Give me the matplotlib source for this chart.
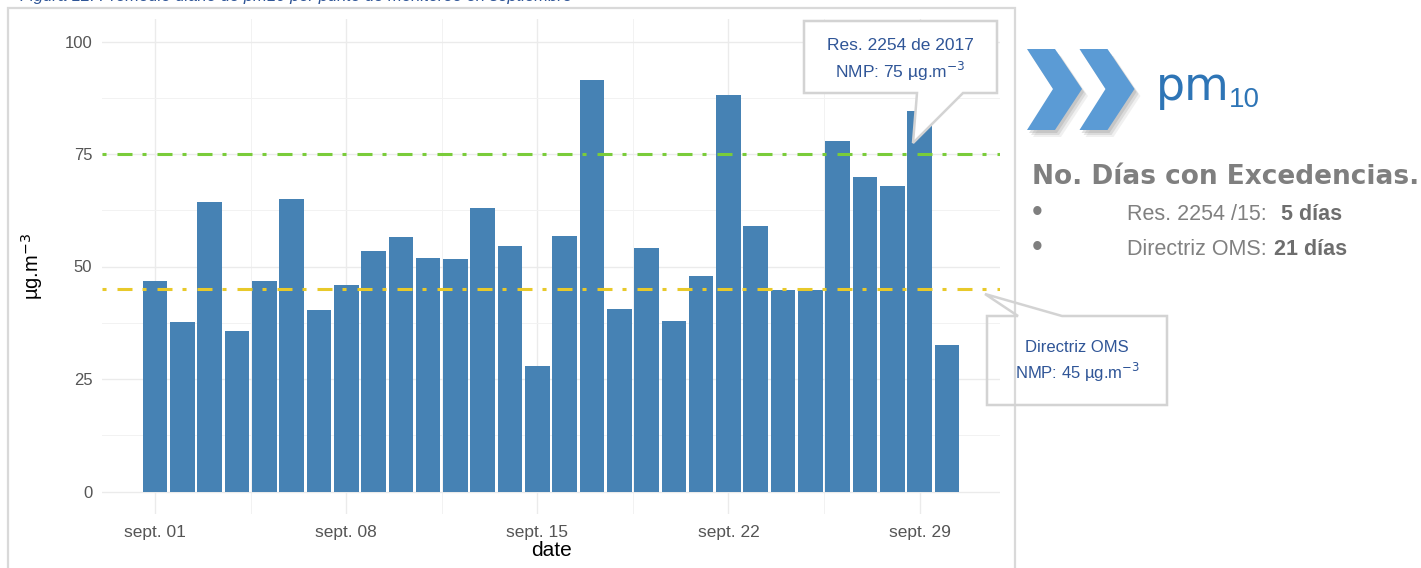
import matplotlib
matplotlib.use('Agg')
import matplotlib.pyplot as plt
from matplotlib.patches import Polygon, Rectangle

# datos: promedio diario pm10 (septiembre)
days = list(range(1, 31))
pm10 = [46.7, 37.6, 64.3, 35.7, 46.7, 65.1, 40.3, 45.9, 53.4, 56.5,
        51.9, 51.7, 63.1, 54.6, 27.9, 56.8, 91.5, 40.5, 54.2, 38.0,
        47.9, 88.2, 59.1, 44.8, 44.8, 78.0, 70.0, 67.8, 84.5, 32.5]
x_ticks = [1, 8, 15, 22, 29]
x_labels = ['sept. 01', 'sept. 08', 'sept. 15', 'sept. 22', 'sept. 29']
y_ticks = [0, 25, 50, 75, 100]
limit_res = 75   # Res. 2254 de 2017
limit_oms = 45   # Directriz OMS

W, H = 1421, 568
plt.rcParams['font.family'] = ['Liberation Sans', 'DejaVu Sans']
plt.rcParams['lines.scale_dashes'] = False

fig = plt.figure(figsize=(W / 100, H / 100), dpi=100)


def px(x, y):
    # pixeles -> coordenadas de figura
    return (x / W, 1 - y / H)


# ---- grafico de barras ----
ax = fig.add_axes([102 / W, 1 - 514 / H, (1000 - 102) / W, (514 - 19) / H])
ax.bar(days, pm10, width=0.9, color='#4682B4', zorder=2)
ax.set_xlim(-0.945, 31.945)
ax.set_ylim(-5, 105)

dash = (0, (2.9, 7.9, 10.8, 7.2))
ax.axhline(limit_res, color='#7ACC3A', lw=2.2, linestyle=dash, zorder=3)
ax.axhline(limit_oms, color='#E8C92A', lw=2.2, linestyle=dash, zorder=3)

ax.set_xticks(x_ticks)
ax.set_xticklabels(x_labels)
ax.set_xticks([4.5, 11.5, 18.5, 25.5], minor=True)
ax.set_yticks(y_ticks)
ax.set_yticks([12.5, 37.5, 62.5, 87.5], minor=True)
ax.grid(which='major', color='#EBEBEB', lw=1.0, zorder=0)
ax.grid(which='minor', color='#F2F2F2', lw=0.7, zorder=0)
ax.set_axisbelow(True)
for s in ax.spines.values():
    s.set_visible(False)
ax.tick_params(which='both', length=0)
ax.tick_params(axis='x', labelsize=12.5, labelcolor='#555555', pad=8)
ax.tick_params(axis='y', labelsize=12, labelcolor='#555555', pad=7)
ax.set_xlabel('date', fontsize=15, labelpad=1)
ax.set_ylabel('µg.m$^{-3}$', fontsize=14.5, labelpad=14)

# marco de la imagen
fig.add_artist(Rectangle(px(8, 580), 1007 / W, 572 / H, transform=fig.transFigure,
                         fill=False, edgecolor='#D9D9D9', lw=1.6, zorder=5))

# leyenda de la figura (cortada arriba)
fig.text(20 / W, 1 - 1 / H, 'Figura 12. Promedio diario de pm10 por punto de monitoreo en septiembre',
         fontsize=12, style='italic', color='#2F5597', va='baseline', ha='left')

# ---- llamadas ----
blue_txt = '#2F5597'
call1 = [(804, 21), (997, 21), (997, 93), (963, 93), (913, 143), (917, 93), (804, 93)]
fig.add_artist(Polygon([px(*p) for p in call1], closed=True, transform=fig.transFigure,
                       facecolor='white', edgecolor='#D3D3D3', lw=1.8, zorder=6))
fig.text(*px(900, 45), 'Res. 2254 de 2017', fontsize=12.5, color=blue_txt,
         ha='center', va='center', zorder=7)
fig.text(*px(900, 71), 'NMP: 75 µg.m$^{-3}$', fontsize=12.5, color=blue_txt,
         ha='center', va='center', zorder=7)

call2 = [(987, 316), (1018, 316), (985, 294), (1062, 316), (1167, 316), (1167, 405), (987, 405)]
fig.add_artist(Polygon([px(*p) for p in call2], closed=True, transform=fig.transFigure,
                       facecolor='none', edgecolor='#D3D3D3', lw=1.8, zorder=6))
fig.text(*px(1077, 348), 'Directriz OMS', fontsize=12, color=blue_txt,
         ha='center', va='center', zorder=7)
fig.text(*px(1077, 372), 'NMP: 45 µg.m$^{-3}$', fontsize=12, color=blue_txt,
         ha='center', va='center', zorder=7)

# ---- panel derecho ----
chev = [(1027, 49), (1055, 49), (1082, 89), (1055, 130), (1027, 130), (1053, 89)]
for dx in [0, 52.5]:
    for off, a in [(7, 0.12), (5, 0.2), (3, 0.25)]:
        shadow = [px(x + dx + off - 1, y + off) for x, y in chev]
        fig.add_artist(Polygon(shadow, closed=True, transform=fig.transFigure,
                               facecolor='#8A8A8A', edgecolor='none', alpha=a, zorder=4))
    pts = [px(x + dx, y) for x, y in chev]
    fig.add_artist(Polygon(pts, closed=True, transform=fig.transFigure,
                           facecolor='#5B9BD5', edgecolor='none', zorder=5))

fig.text(*px(1156, 100), 'pm', fontsize=33, color='#2E75B6', va='baseline', ha='left',
         family=['DejaVu Sans'])
fig.text(*px(1229, 107), '10', fontsize=20, color='#2E75B6', va='baseline', ha='left')

fig.text(*px(1032, 184), 'No. Días con Excedencias.', fontsize=19, fontweight='heavy',
         color='#7F7F7F', va='baseline', ha='left', family=['DejaVu Sans'])

gray = '#808080'
for yb, lab, xb, val in [(220, 'Res. 2254 /15:', 1281, '5 días'),
                         (255, 'Directriz OMS:', 1274, '21 días')]:
    fig.text(*px(1037, yb - 7), '•', fontsize=22, color='#7F7F7F', ha='center', va='center')
    fig.text(*px(1127, yb), lab, fontsize=15.5, color=gray, va='baseline', ha='left')
    fig.text(*px(xb, yb), val, fontsize=15.5, color='#6E6E6E', fontweight='bold',
             va='baseline', ha='left')

fig.savefig('out.png', dpi=100)
